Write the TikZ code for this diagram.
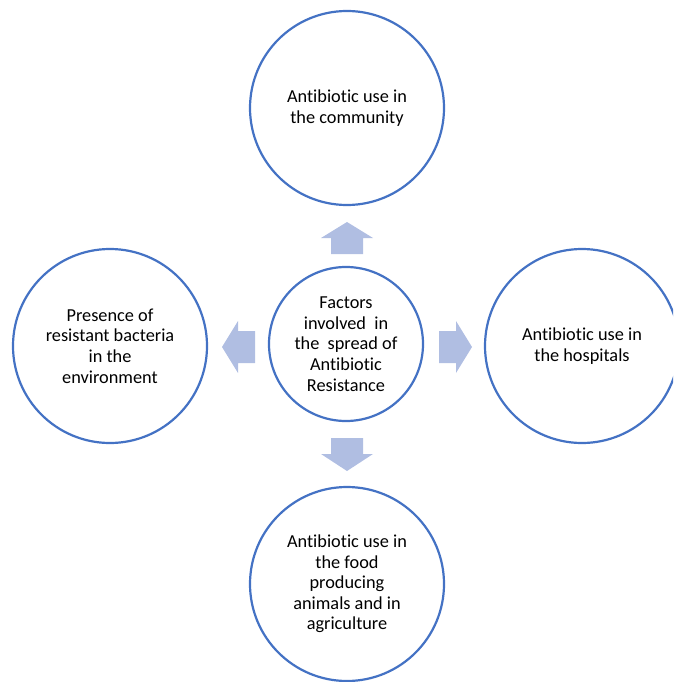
\documentclass[tikz,border=0pt]{standalone}
\usepackage{fontspec}
\setmainfont[Ligatures=NoCommon]{Carlito}
\begin{document}
\begin{tikzpicture}[x=1pt,y=-1pt,
  ring/.style={circle,draw=ringblue,line width=2.2pt,fill=white,inner sep=0pt,
    align=center,font=\fontsize{18.3}{20.6}\selectfont,text=black},
  big/.style={ring,minimum size=194pt},
  small/.style={ring,minimum size=154pt},
  blockarrow/.style={fill=arrowblue,draw=none}]
\definecolor{ringblue}{HTML}{4472C4}
\definecolor{arrowblue}{HTML}{B0BEE2}
\useasboundingbox (0,0) rectangle (673,682);
\clip (0,0) rectangle (673,682);
\node[big] (top) at (347,108) {Antibiotic use in\\the community};
\node[small] (mid) at (346,344) {Factors\\involved~ in\\the~ spread of\\Antibiotic\\Resistance};
\node[big] (left) at (110,346) {Presence of\\resistant bacteria\\in the\\environment};
\node[big] (right) at (582,346) {Antibiotic use in\\the hospitals};
\node[big] (bottom) at (347,584) {Antibiotic use in\\the food\\producing\\animals and in\\agriculture};
% block arrows
\fill[blockarrow] (331,254) -- (331,238) -- (321,238) -- (347,222) -- (373,238) -- (363,238) -- (363,254) -- cycle;
\fill[blockarrow] (331,438) -- (331,454) -- (321,454) -- (347,471) -- (373,454) -- (363,454) -- (363,438) -- cycle;
\fill[blockarrow] (255,331) -- (238,331) -- (238,321) -- (222,347) -- (238,373) -- (238,363) -- (255,363) -- cycle;
\fill[blockarrow] (439,331) -- (456,331) -- (456,321) -- (472,347) -- (456,373) -- (456,363) -- (439,363) -- cycle;
\end{tikzpicture}
\end{document}
